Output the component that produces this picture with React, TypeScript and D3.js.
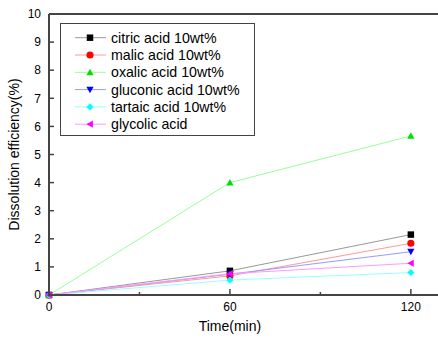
import React from "react";
import * as d3 from "d3";

const times = [0, 60, 120];
const seriesNames = [
  "citric acid 10wt%",
  "malic acid 10wt%",
  "oxalic acid 10wt%",
  "gluconic acid 10wt%",
  "tartaic acid 10wt%",
  "glycolic acid",
];
const citric = [0, 0.86, 2.15];
const malic = [0, 0.68, 1.84];
const oxalic = [0, 4.0, 5.66];
const gluconic = [0, 0.74, 1.54];
const tartaic = [0, 0.53, 0.8];
const glycolic = [0, 0.76, 1.13];
const yTicks = [0, 1, 2, 3, 4, 5, 6, 7, 8, 9, 10];
const xTicks = [0, 60, 120];
const xMinor = [30, 90];

const allValues = [citric, malic, oxalic, gluconic, tartaic, glycolic];
const lineColors = ["#999999", "#ff9999", "#99ff99", "#9999ff", "#99ffff", "#ff99ff"];
const markColors = ["#000000", "#ff0000", "#00e000", "#0000ff", "#00ffff", "#ff00ff"];

function marker(i: number, cx: number, cy: number, color: string, key: string) {
  const s = 3.6;
  let d = "";
  if (i === 0) d = d3.symbol(d3.symbolSquare, 42)() as string;
  else if (i === 1) d = d3.symbol(d3.symbolCircle, 40)() as string;
  else if (i === 2) d = `M0,${-s}L${s},${s * 0.8}L${-s},${s * 0.8}Z`;
  else if (i === 3) d = `M0,${s}L${s},${-s * 0.8}L${-s},${-s * 0.8}Z`;
  else if (i === 4) d = `M0,${-s}L${s},0L0,${s}L${-s},0Z`;
  else d = `M${-s},0L${s * 0.8},${-s}L${s * 0.8},${s}Z`;
  return <path key={key} d={d} transform={`translate(${cx},${cy})`} fill={color} />;
}

export default function App() {
  const left = 49;
  const top = 14;
  const bottom = 295;
  const x = d3.scaleLinear().domain([0, 130]).range([left, left + 392]);
  const y = d3.scaleLinear().domain([0, 10]).range([bottom, top]);
  const line = d3
    .line<number>()
    .x((_, j) => x(times[j]))
    .y((v) => y(v));
  const font = "'Liberation Sans', Arial, sans-serif";
  const axisColor = "#444444";

  return (
    <svg
      width={438}
      height={338}
      style={{ position: "absolute", left: 0, top: 0, background: "#fff" }}
      fontFamily={font}
    >
      {/* series lines */}
      {allValues.map((vals, i) => (
        <path key={"l" + i} d={line(vals) as string} fill="none" stroke={lineColors[i]} strokeWidth={1} />
      ))}
      {/* markers */}
      {allValues.map((vals, i) =>
        vals.map((v, j) => marker(i, x(times[j]), y(v), markColors[i], `m${i}-${j}`))
      )}

      {/* frame */}
      <line x1={left} x2={438} y1={top} y2={top} stroke={axisColor} strokeWidth={2} />
      <line x1={left} x2={left} y1={top} y2={bottom + 1} stroke={axisColor} strokeWidth={2} />
      <line x1={left} x2={438} y1={bottom} y2={bottom} stroke={axisColor} strokeWidth={2} />

      {/* y ticks */}
      {yTicks.map((t) => (
        <g key={"y" + t}>
          <line x1={left} x2={left + 5} y1={y(t)} y2={y(t)} stroke={axisColor} strokeWidth={1.5} />
          <text x={left - 8} y={y(t)} dy="0.35em" textAnchor="end" fontSize={12} fill="#000">
            {t}
          </text>
        </g>
      ))}
      {/* x ticks */}
      {xTicks.map((t) => (
        <g key={"x" + t}>
          <line x1={x(t)} x2={x(t)} y1={bottom} y2={bottom - 6} stroke={axisColor} strokeWidth={1.5} />
          <text x={x(t)} y={bottom + 16} textAnchor="middle" fontSize={12} fill="#000">
            {t}
          </text>
        </g>
      ))}
      {xMinor.map((t) => (
        <line key={"xm" + t} x1={x(t)} x2={x(t)} y1={bottom} y2={bottom - 3} stroke={axisColor} strokeWidth={1.5} />
      ))}

      {/* axis titles */}
      <text x={x(60)} y={331} textAnchor="middle" fontSize={14} fill="#000">
        Time(min)
      </text>
      <text
        transform={`translate(19,${(top + bottom) / 2}) rotate(-90)`}
        textAnchor="middle"
        fontSize={14}
        fill="#000"
      >
        Dissolution efficiency(%)
      </text>

      {/* legend */}
      <rect x={60.5} y={23.5} width={194} height={112} fill="#fff" stroke={axisColor} strokeWidth={1} />
      {seriesNames.map((name, i) => {
        const cy = 37.7 + i * 17.3;
        return (
          <g key={"lg" + i}>
            <line x1={75} x2={106} y1={cy} y2={cy} stroke={lineColors[i]} strokeWidth={1} />
            {marker(i, 90, cy, markColors[i], "lm" + i)}
            <text x={111} y={cy} dy="0.36em" fontSize={14.2} fill="#000">
              {name}
            </text>
          </g>
        );
      })}
    </svg>
  );
}
